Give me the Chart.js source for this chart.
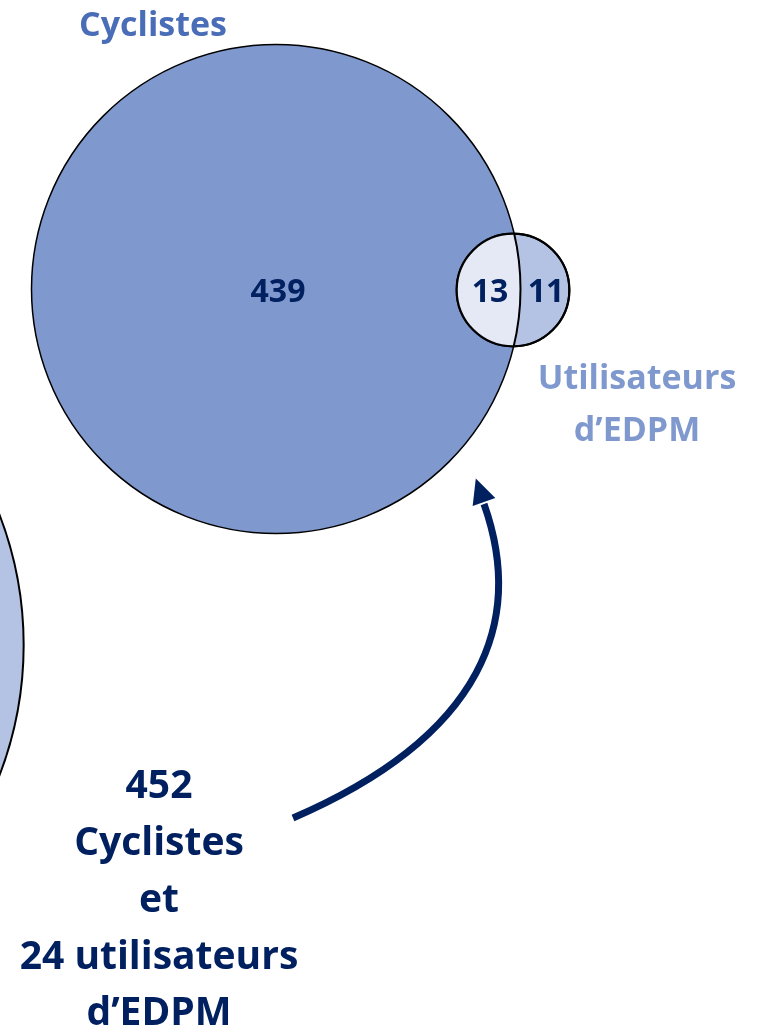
<!DOCTYPE html>
<html>
<head>
<meta charset="utf-8">
<script src="https://cdn.jsdelivr.net/npm/chart.js@4.4.1/dist/chart.umd.min.js"></script>
<style>
  html, body { margin: 0; padding: 0; background: #fff; }
  #wrap { width: 757px; height: 1031px; }
</style>
</head>
<body>
<div id="wrap"><canvas id="venn"></canvas></div>
<script>
// effectifs par zone du diagramme
const zoneLabels = ['Cyclistes seuls', 'Cyclistes et EDPM', 'EDPM seuls'];
const zoneValues = [439, 13, 11];
const setNames = ['Cyclistes', ['Utilisateurs', 'd’EDPM']];
// cercle coupé à gauche (autre diagramme), effectif estimé
const otherSetValue = 1000;

const cyclistes = zoneValues[0] + zoneValues[1];   // 452
const edpm = zoneValues[1] + zoneValues[2];         // 24

const navy = '#002060';
const fontFam = '"Open Sans", "DejaVu Sans", sans-serif';
const pxPerSqrt = 11.5; // rayon bulle = k * sqrt(effectif), aire proportionnelle

// placement des cercles (unités des axes)
const centers = [
  { x: -340, y: 645 },
  { x: 276, y: 289 },
  { x: 513, y: 290 }
];
const counts = [otherSetValue, cyclistes, edpm];

const vennExtras = {
  id: 'vennExtras',
  afterDatasetsDraw(chart) {
    const ctx = chart.ctx;
    const xs = chart.scales.x, ys = chart.scales.y;
    const pts = chart.getDatasetMeta(0).data;
    const big = pts[1], small = pts[2];
    const rb = big.options.radius, rs = small.options.radius;

    // zone commune
    ctx.save();
    ctx.beginPath();
    ctx.arc(small.x, small.y, rs, 0, Math.PI * 2);
    ctx.clip();
    ctx.beginPath();
    ctx.arc(big.x, big.y, rb, 0, Math.PI * 2);
    ctx.fillStyle = '#E4E9F5';
    ctx.fill();
    ctx.lineWidth = 2;
    ctx.strokeStyle = '#000';
    ctx.stroke();
    ctx.restore();
    ctx.save();
    ctx.beginPath();
    ctx.arc(small.x, small.y, rs, 0, Math.PI * 2);
    ctx.lineWidth = 2.2;
    ctx.strokeStyle = '#000';
    ctx.stroke();
    ctx.restore();

    const px = v => xs.getPixelForValue(v);
    const py = v => ys.getPixelForValue(v);
    const text = (str, x, y, size, color) => {
      ctx.font = 'bold ' + size + 'px ' + fontFam;
      ctx.fillStyle = color;
      ctx.textAlign = 'center';
      ctx.textBaseline = 'alphabetic';
      ctx.fillText(str, px(x), py(y));
    };

    ctx.save();
    // valeurs des zones
    text(String(zoneValues[0]), 278, 302, 32, navy);
    text(String(zoneValues[1]), 490, 302, 32, navy);
    text(String(zoneValues[2]), 546, 302, 32, navy);
    // noms des ensembles
    text(setNames[0], 153, 36, 34, '#4A6DB8');
    text(setNames[1][0], 637, 389, 34, '#7F99CF');
    text(setNames[1][1], 637, 441, 34, '#7F99CF');
    // résumé
    const lines = [String(cyclistes), 'Cyclistes', 'et', edpm + ' utilisateurs', 'd’EDPM'];
    const baselines = [798, 855, 912, 969, 1025];
    lines.forEach((l, i) => text(l, 159, baselines[i], 39, navy));

    // flèche courbe
    const p0 = [293, 818], p1 = [485, 735], p2 = [525, 620], p3 = [484, 502];
    ctx.beginPath();
    ctx.moveTo(px(p0[0]), py(p0[1]));
    ctx.bezierCurveTo(px(p1[0]), py(p1[1]), px(p2[0]), py(p2[1]), px(p3[0]), py(p3[1]) + 2);
    ctx.lineWidth = 7;
    ctx.strokeStyle = navy;
    ctx.stroke();
    let dx = px(p3[0]) - px(p2[0]), dy = py(p3[1]) - py(p2[1]);
    const len = Math.hypot(dx, dy);
    dx /= len; dy /= len;
    const tx = px(p3[0]) + dx * 25, ty = py(p3[1]) + dy * 25;
    const nx = -dy, ny = dx;
    ctx.beginPath();
    ctx.moveTo(tx, ty);
    ctx.lineTo(px(p3[0]) + nx * 12, py(p3[1]) + ny * 12);
    ctx.lineTo(px(p3[0]) - nx * 12, py(p3[1]) - ny * 12);
    ctx.closePath();
    ctx.fillStyle = navy;
    ctx.fill();
    ctx.restore();
  }
};

new Chart(document.getElementById('venn'), {
  type: 'bubble',
  data: {
    datasets: [{
      label: 'Ensembles',
      data: centers.map((c, i) => ({ x: c.x, y: c.y, r: pxPerSqrt * Math.sqrt(counts[i]) })),
      backgroundColor: ['#B4C3E4', '#7F99CF', '#B4C3E4'],
      borderColor: '#000',
      borderWidth: [2, 1.5, 2],
      clip: false
    }]
  },
  options: {
    responsive: true,
    maintainAspectRatio: false,
    animation: false,
    events: [],
    layout: { padding: 0, autoPadding: false },
    scales: {
      x: { type: 'linear', min: 0, max: 757, display: false },
      y: { type: 'linear', min: 0, max: 1031, reverse: true, display: false }
    },
    plugins: {
      legend: { display: false },
      tooltip: { enabled: false }
    }
  },
  plugins: [vennExtras]
});
</script>
</body>
</html>
